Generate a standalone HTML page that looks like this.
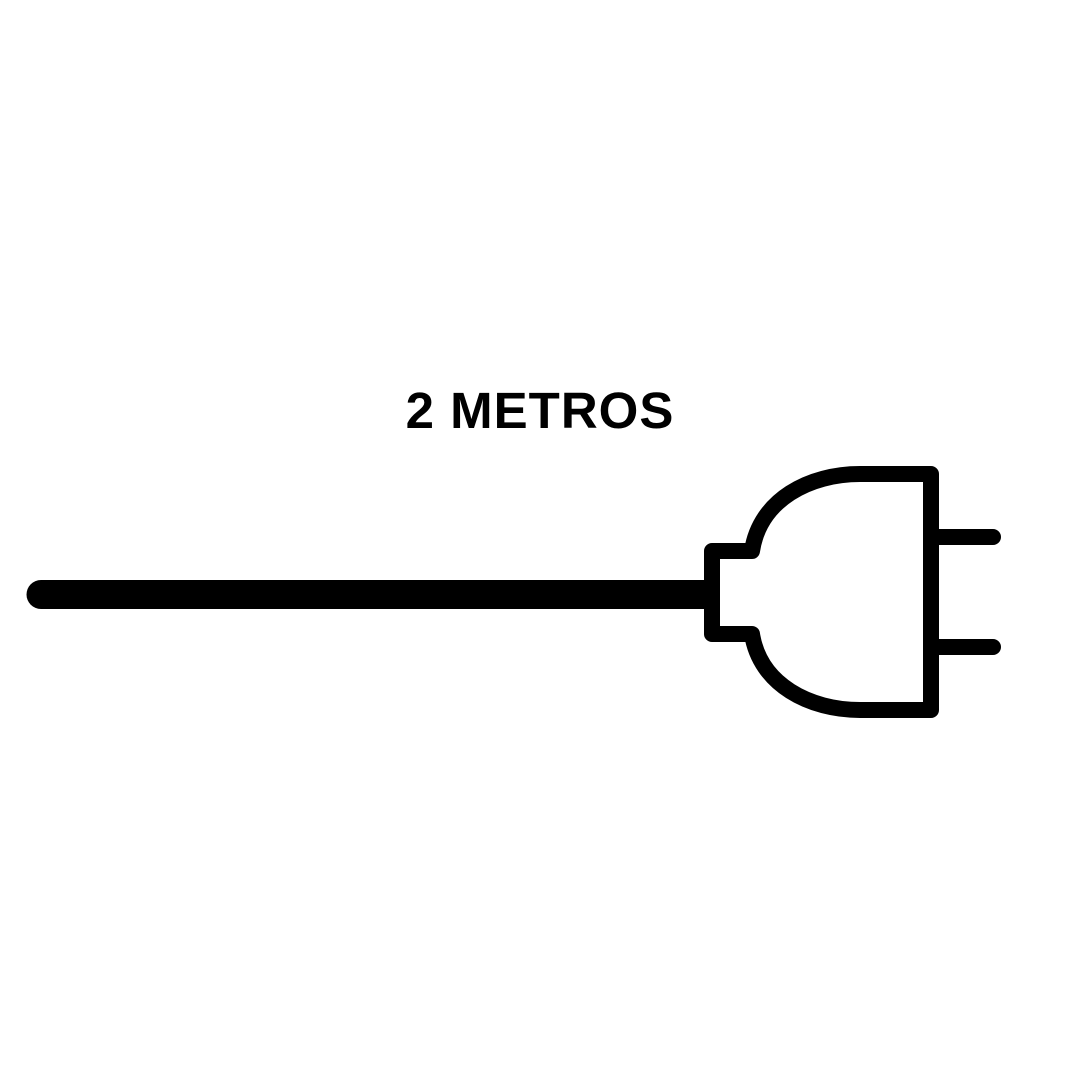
<!DOCTYPE html>
<html><head><style>
html,body{margin:0;padding:0;background:#fff;width:1080px;height:1080px;overflow:hidden}
svg{position:absolute;left:0;top:0}
</style></head><body>
<svg width="1080" height="1080" viewBox="0 0 1080 1080">
<text x="540" y="428" text-anchor="middle" font-family="Liberation Sans, sans-serif" font-weight="bold" font-size="51" letter-spacing="1" fill="#000">2 METROS</text>
<line x1="41" y1="594.5" x2="706" y2="594.5" stroke="#000" stroke-width="29" stroke-linecap="butt"/>
<circle cx="41" cy="594.5" r="14.5" fill="#000"/>
<path d="M752 551 L712 551 L712 634 L752 634 C760 685 810 710 860 710 L931 710 L931 474 L860 474 C810 474 760 499 752 551 Z" fill="none" stroke="#000" stroke-width="16" stroke-linejoin="round"/>
<line x1="931" y1="537" x2="993" y2="537" stroke="#000" stroke-width="16" stroke-linecap="round"/>
<line x1="931" y1="647" x2="993" y2="647" stroke="#000" stroke-width="16" stroke-linecap="round"/>
</svg>
</body></html>
